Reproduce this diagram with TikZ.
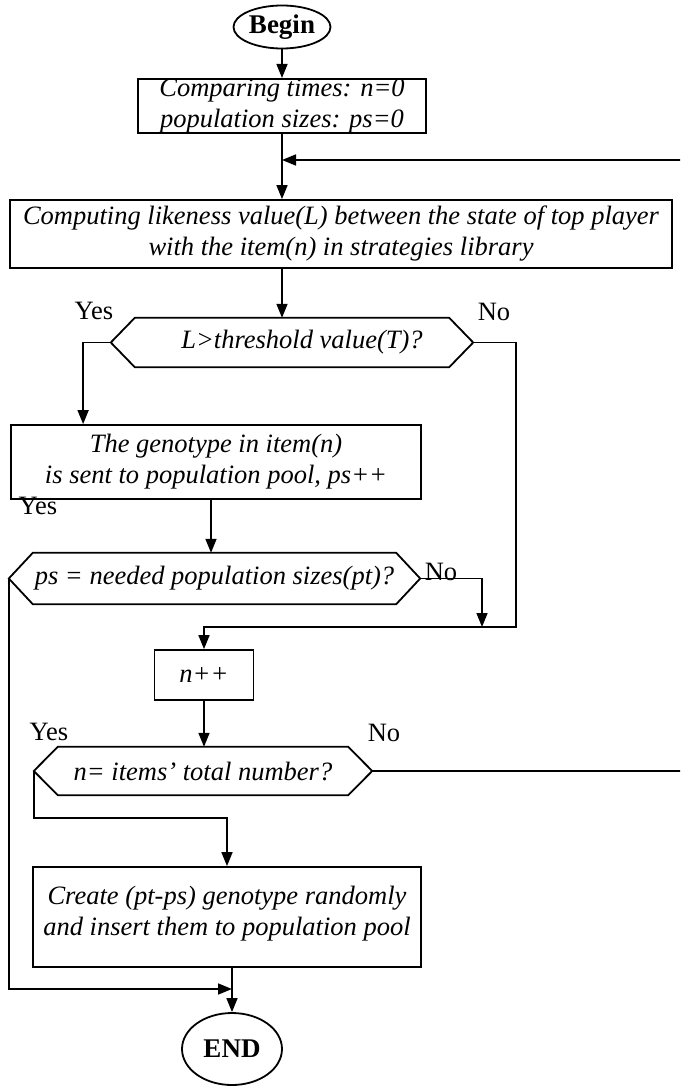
\documentclass[tikz,border=0pt]{standalone}
\usepackage{fontspec}
\setmainfont{Liberation Serif}
\usetikzlibrary{arrows.meta,shapes.geometric}

\begin{document}
\begin{tikzpicture}[x=1pt,y=-1pt,
  every node/.style={font=\fontsize{26.5}{31}\selectfont\itshape},
  line/.style={line width=1.6pt},
  arr/.style={line, -{Triangle[length=14pt,width=11pt]}},
  proc/.style={draw, line width=1.8pt, inner sep=0pt, align=center},
  term/.style={draw, ellipse, line width=1.8pt, inner sep=0pt,
               font=\fontsize{27}{31}\selectfont\bfseries},
  hexa/.style={inner sep=0pt, align=center},
  hexline/.style={line width=1.8pt, line join=miter},
  lbl/.style={font=\fontsize{26.5}{31}\selectfont\upshape}]

\useasboundingbox (0,0) rectangle (680,1086);
\clip (0,0) rectangle (680,1086);

% boxes and decisions
\node[term, minimum width=97pt, minimum height=43pt] (begin) at (282,27) {Begin};
\node[proc, minimum width=288pt, minimum height=54pt] (init) at (282,106)
  {Comparing times: n=0\\population sizes: ps=0};
\coordinate (fb) at (282,160);
\node[proc, minimum width=662pt, minimum height=68pt] (big) at (341,234)
  {Computing likeness value(L) between the state of top player\\with the item(n) in strategies library};
\node[hexa, minimum width=362pt, minimum height=49pt] (h1) at (292,342.5)
  {\hspace*{20pt}L>threshold value(T)?};
\node[proc, minimum width=410pt, minimum height=74pt] (gen) at (216,462)
  {The genotype in item(n)\\is sent to population pool, ps++};
\node[hexa, minimum width=411pt, minimum height=51pt] (h2) at (214.5,578.5)
  {ps = needed population sizes(pt)?};
\coordinate (join) at (204,627);
\node[proc, minimum width=99pt, minimum height=50pt] (inc) at (204,675) {n++};
\node[hexa, minimum width=338pt, minimum height=48pt] (h3) at (203,771)
  {n= items’ total number?};
\node[proc, minimum width=388pt, minimum height=100pt] (create) at (227,917)
  {Create (pt-ps) genotype randomly\\and insert them to population pool\rule[-12pt]{0pt}{0pt}};
\node[term, minimum width=100pt, minimum height=72pt] (end) at (232,1049) {END};
\coordinate (meet) at (232,989);
\coordinate (railtop) at (700,160);

% hexagon outlines of the decisions
\foreach \h in {h1,h2,h3}
  \draw[hexline] (\h.west) -- ([xshift=24pt]\h.north west) -- ([xshift=-24pt]\h.north east)
    -- (\h.east) -- ([xshift=-24pt]\h.south east) -- ([xshift=24pt]\h.south west) -- cycle;

% branch labels
\node[lbl] (y1) at (94,311) {Yes};
\node[lbl] (n1) at (494,312) {No};
\node[lbl] (y2) at (38,506) {Yes};
\node[lbl] (n2) at (441,572) {No};
\node[lbl] (y3) at (49,732) {Yes};
\node[lbl] (n3) at (384,733) {No};

% connectors
\draw[arr] (begin.south) -- (init.north);
\draw[line] (init.south) -- (fb);
\draw[arr] (fb) -- (big.north -| fb);
\draw[arr] (h3.east) -| (railtop) -- (fb);
\draw[arr] (big.south -| fb) -- (h1.north -| fb);
\draw[arr] (h1.west) -| ([xshift=73pt]gen.north west);
\draw[arr] (h1.east) -| ([xshift=312pt]join) -- (join) -- (inc.north);
\draw[arr] ([xshift=-5pt]gen.south) -- ([xshift=-5pt]gen.south |- h2.north);
\draw[arr] (h2.east) -| ([xshift=278pt]join);
\draw[arr] (inc.south) -- (h3.north -| inc.south);
\draw[arr] (h3.west) -- ++(0,47) -| (create.north);
\draw[arr] (create.south -| end.north) -- (end.north);
\draw[arr] (h2.west) |- (meet);
\end{tikzpicture}
\end{document}
